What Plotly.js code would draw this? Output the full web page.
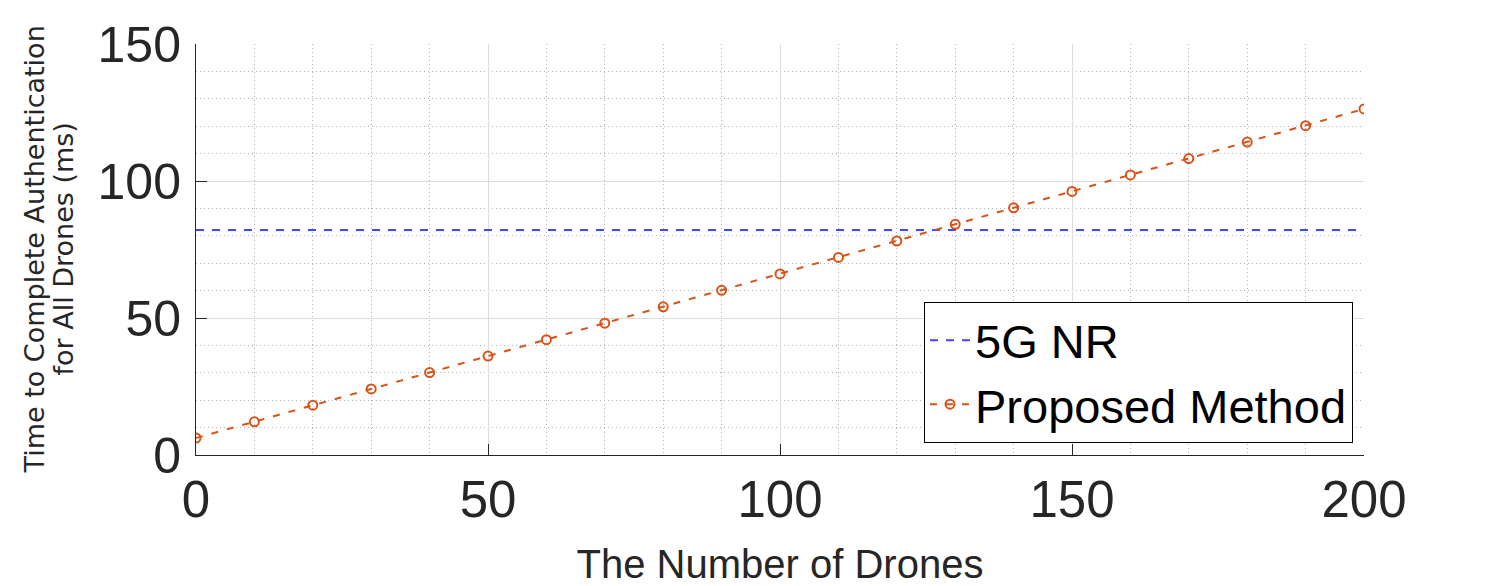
<!DOCTYPE html>
<html>
<head>
<meta charset="utf-8">
<script src="https://cdn.plot.ly/plotly-3.0.1.min.js"></script>
<style>
  html, body { margin: 0; padding: 0; background: #fff; }
  #chart { width: 1508px; height: 586px; }
</style>
</head>
<body>
<div id="chart"></div>
<script>
// number of drones
var drones = [0, 10, 20, 30, 40, 50, 60, 70, 80, 90, 100,
              110, 120, 130, 140, 150, 160, 170, 180, 190, 200];
// time (ms)
var proposedTime = [6.2, 12.1, 18.2, 24.1, 30.1, 36.1, 42.1, 48.1, 54.1, 60.1, 66.1,
                    72.1, 78.1, 84.2, 90.2, 96.2, 102.2, 108.2, 114.2, 120.2, 126.3];
var nrX = [0, 200];
var nrTime = [82.1, 82.1];

var xTicks = [0, 50, 100, 150, 200];
var yTicks = [0, 50, 100, 150];
var yTitleLines = ['Time to Complete Authentication', 'for All Drones (ms)'];

var fontFam = '"Liberation Sans", Arial, Helvetica, sans-serif';
var titleFam = '"DejaVu Sans", "Liberation Sans", Arial, sans-serif';
var axisCol = '#262626';

var nr_plot = {
    x: nrX,
    y: nrTime,
    type: 'scatter',
    mode: 'lines',
    name: '5G NR',
    line: { color: '#4646ff', width: 2, dash: '8px,8px' }
};

var proposed_plot = {
    x: drones,
    y: proposedTime,
    type: 'scatter',
    mode: 'lines+markers',
    name: 'Proposed Method',
    line: { color: '#d95319', width: 2, dash: '7px,9px' },
    marker: {
        symbol: 'circle-open',
        size: 9,
        color: '#d95319',
        line: { width: 2, color: '#d95319' }
    }
};

var minorGrid = {
    dtick: 10,
    showgrid: true,
    gridcolor: '#b4b4b4',
    griddash: '1px,3px',
    gridwidth: 1
};

var layout = {
    width: 1508,
    height: 586,
    margin: { l: 196, r: 144, t: 44, b: 131 },
    paper_bgcolor: '#ffffff',
    plot_bgcolor: '#ffffff',
    showlegend: true,
    legend: {
        x: 0.9906,
        y: 0.029,
        xanchor: 'right',
        yanchor: 'bottom',
        bgcolor: '#ffffff',
        bordercolor: '#000000',
        borderwidth: 1,
        font: { family: fontFam, size: 47, color: '#000000' },
        itemwidth: 40,
        tracegroupgap: 0
    },
    xaxis: {
        range: [0, 200],
        tickvals: xTicks,
        ticktext: xTicks.map(String),
        ticks: 'inside',
        ticklen: 11,
        tickcolor: axisCol,
        tickfont: { family: fontFam, size: 51, color: axisCol },
        showline: true,
        linecolor: axisCol,
        linewidth: 1,
        mirror: false,
        zeroline: false,
        showgrid: true,
        gridcolor: '#dcdcdc',
        gridwidth: 1,
        minor: minorGrid,
        title: {
            text: 'The Number of Drones',
            font: { family: fontFam, size: 40, color: axisCol },
            standoff: 24
        }
    },
    yaxis: {
        range: [0, 150],
        tickvals: yTicks,
        ticktext: yTicks.map(String),
        ticks: 'inside',
        ticklen: 11,
        tickcolor: axisCol,
        tickfont: { family: fontFam, size: 50, color: axisCol },
        ticklabelstandoff: 4,
        showline: true,
        linecolor: axisCol,
        linewidth: 1,
        mirror: false,
        zeroline: false,
        showgrid: true,
        gridcolor: '#dcdcdc',
        gridwidth: 1,
        minor: minorGrid
    },
    // two-line y title, set as rotated annotations so the line gap stays tight
    annotations: [
        {
            text: yTitleLines[0], xref: 'paper', yref: 'paper', x: 0, y: 0.5,
            xanchor: 'center', yanchor: 'middle', xshift: -162, textangle: -90,
            showarrow: false, font: { family: titleFam, size: 27, color: axisCol }
        },
        {
            text: yTitleLines[1], xref: 'paper', yref: 'paper', x: 0, y: 0.5,
            xanchor: 'center', yanchor: 'middle', xshift: -133, textangle: -90,
            showarrow: false, font: { family: titleFam, size: 27, color: axisCol }
        }
    ]
};

Plotly.newPlot('chart', [nr_plot, proposed_plot], layout, { displayModeBar: false, staticPlot: true });
</script>
</body>
</html>
